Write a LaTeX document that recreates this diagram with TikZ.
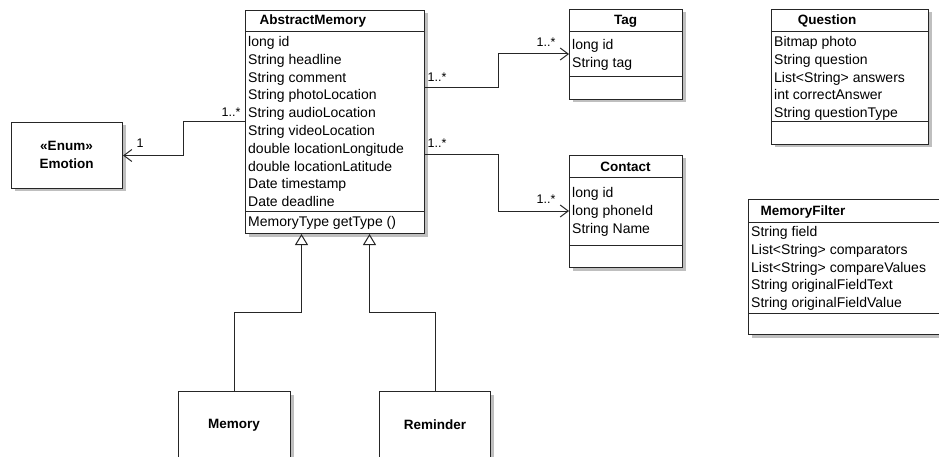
\documentclass[tikz,border=0pt]{standalone}
\usepackage{fontspec}
\setmainfont{Liberation Sans}
\usetikzlibrary{arrows.meta,shadows}

\begin{document}
\begin{tikzpicture}[x=1pt, y=-1pt,
		every node/.style={font=\fontsize{14}{17.8}\selectfont, inner sep=0pt},
		classbox/.style={draw=black!85, line width=1pt, fill=white, anchor=north west,
			drop shadow={shadow xshift=3pt, shadow yshift=-3pt, fill=black!25, opacity=1}},
		sep/.style={draw=black!85, line width=1pt},
		cname/.style={font=\fontsize{13.5}{17.8}\selectfont\bfseries},
		attr/.style={anchor=base west},
		mult/.style={font=\fontsize{12.5}{15}\selectfont},
		assoc/.style={draw=black!85, line width=1pt, -{Straight Barb[length=8pt,width=12pt]}},
		gen/.style={draw=black!85, line width=1pt, -{Triangle[length=11pt,width=13pt,fill=white]}},
	]
	\useasboundingbox (0,0) rectangle (939,457);
	\clip (0,0) rectangle (939,457);

	% AbstractMemory
	\node[classbox, minimum width=179pt, minimum height=223pt] (AM) at (245,10) {};
	\draw[sep] (245,32) -- (424,32) (245,211) -- (424,211);
	\node[cname] (AM-name) at (313,21) {AbstractMemory};
	\foreach \t [count=\i] in {long id, String headline, String comment, String photoLocation,
			String audioLocation, String videoLocation, double locationLongitude,
			double locationLatitude, Date timestamp, Date deadline}
		{ \node[attr] (AM-\i) at (248,{46.5+17.8*(\i-1)}) {\t};}
	\node[attr] (AM-op) at (248,226.5) {MemoryType getType ()};

	% Emotion
	\node[classbox, minimum width=111pt, minimum height=66pt] (Emotion) at (11,122) {};
	\node[cname, align=center] (Emotion-name) at (66.5,155) {«Enum»\\Emotion};

	% Tag
	\node[classbox, minimum width=113pt, minimum height=90pt] (Tag) at (569,9) {};
	\draw[sep] (569,32) -- (682,32) (569,77) -- (682,77);
	\node[cname] (Tag-name) at (625.5,21) {Tag};
	\foreach \t [count=\i] in {long id, String tag}
		{ \node[attr] (Tag-\i) at (572,{49.5+17.8*(\i-1)}) {\t};}

	% Contact
	\node[classbox, minimum width=113pt, minimum height=112pt] (Contact) at (569,155) {};
	\draw[sep] (569,178) -- (682,178) (569,245) -- (682,245);
	\node[cname] (Contact-name) at (625.5,167) {Contact};
	\foreach \t [count=\i] in {long id, long phoneId, String Name}
		{ \node[attr] (Contact-\i) at (572,{197.5+17.8*(\i-1)}) {\t};}

	% Question
	\node[classbox, minimum width=157pt, minimum height=135pt] (Question) at (771,9) {};
	\draw[sep] (771,32) -- (928,32) (771,122) -- (928,122);
	\node[cname] (Question-name) at (827,21) {Question};
	\foreach \t [count=\i] in {Bitmap photo, String question, List<String> answers,
			int correctAnswer, String questionType}
		{ \node[attr] (Question-\i) at (774,{46.5+17.8*(\i-1)}) {\t};}

	% MemoryFilter
	\node[classbox, minimum width=210pt, minimum height=135pt] (Filter) at (748,199) {};
	\draw[sep] (748,222) -- (958,222) (748,313) -- (958,313);
	\node[cname] (Filter-name) at (803,212) {MemoryFilter};
	\foreach \t [count=\i] in {String field, List<String> comparators, List<String> compareValues,
			String originalFieldText, String originalFieldValue}
		{ \node[attr] (Filter-\i) at (751,{236.5+17.8*(\i-1)}) {\t};}

	% Memory, Reminder
	\node[classbox, minimum width=112pt, minimum height=68pt] (Memory) at (178,391) {};
	\node[cname] (Memory-name) at (234,425) {Memory};
	\node[classbox, minimum width=111pt, minimum height=68pt] (Reminder) at (379,391) {};
	\node[cname] (Reminder-name) at (435,425) {Reminder};

	% associations
	\draw[assoc] ([yshift=-112pt]AM.north west) -- ++(-62,0) |- (Emotion.east);
	\draw[assoc] ([yshift=-78pt]AM.north east) -- ++(73,0) |- ([yshift=-45pt]Tag.north west);
	\draw[assoc] ([yshift=-145pt]AM.north east) -- ++(73,0) |- ([yshift=-56pt]Contact.north west);
	\node[mult] (m-emo-src) at (231,112) {1..*};
	\node[mult] (m-emo-dst) at (140,143) {1};
	\node[mult] (m-tag-src) at (437,77) {1..*};
	\node[mult] (m-tag-dst) at (546,42) {1..*};
	\node[mult] (m-con-src) at (437,143) {1..*};
	\node[mult] (m-con-dst) at (546,199) {1..*};

	% generalizations
	\draw[gen] (Memory.north) -- ++(0,-79) -| ([xshift=-33.5pt]AM.south);
	\draw[gen] (Reminder.north) -- ++(0,-79) -| ([xshift=34.5pt]AM.south);

\end{tikzpicture}
\end{document}
